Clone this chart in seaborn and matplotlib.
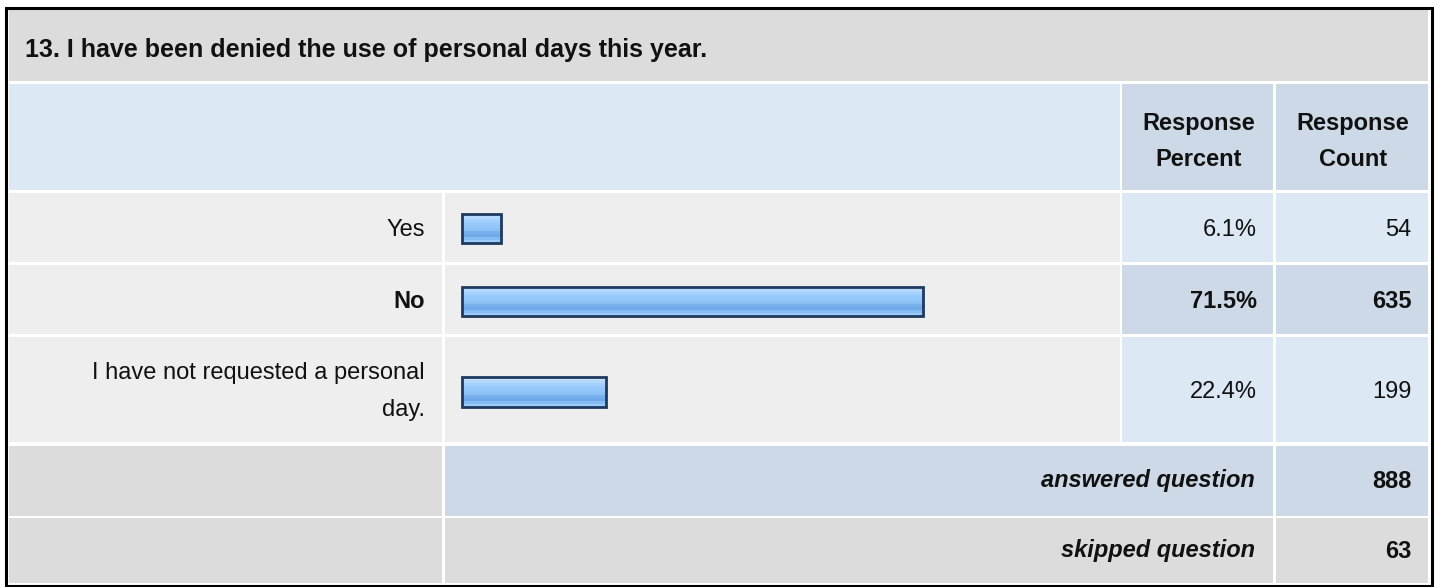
import matplotlib
matplotlib.use("Agg")
import matplotlib.pyplot as plt
import seaborn as sns
import numpy as np
import pandas as pd
from matplotlib.patches import Rectangle
from matplotlib.colors import to_rgb

# ---------------- data ----------------
question = "13. I have been denied the use of personal days this year."
categories = ["Yes", "No", "I have not requested a personal\nday."]
percents = [6.1, 71.5, 22.4]
counts = [54, 635, 199]
percent_labels = ["6.1%", "71.5%", "22.4%"]
header_percent = ["Response", "Percent"]
header_count = ["Response", "Count"]
answered_label = "answered question"
answered_count = 888
skipped_label = "skipped question"
skipped_count = 63
highlight = "No"

# ---------------- style ----------------
sns.set_theme(style="white")
plt.rcParams["font.family"] = ["Liberation Sans", "DejaVu Sans"]

W, H = 1437, 587
FS = 17
fig = plt.figure(figsize=(W / 100, H / 100), dpi=100, facecolor="white")
bg = fig.add_axes([0, 0, 1, 1])
bg.set_xlim(0, W)
bg.set_ylim(H, 0)
bg.axis("off")

GRAY = "#dcdcdc"
LIGHT = "#eeeeee"
BLUE = "#dde8f5"
BLUE2 = "#cdd9e6"
TXT = "#111111"


def cell(x0, y0, x1, y1, color):
    bg.add_patch(Rectangle((x0, y0), x1 - x0, y1 - y0, facecolor=color,
                           edgecolor="none", zorder=1))


# columns (pixels)
C_LAB = (9, 442)
C_BAR = (444.5, 1119.5)
C_PCT = (1122, 1273)
C_CNT = (1276, 1427.5)

# rows
R_TITLE = (10, 81)
R_HEAD = (84, 190)
R_DATA = [(193, 262), (265, 334), (337, 442)]
R_ANS = (445.5, 515.5)
R_SKIP = (518, 583)

# outer frame
bg.add_patch(Rectangle((5.5, 7.5), 1426, 578, facecolor="none",
                       edgecolor="black", linewidth=2.2, zorder=3))

# title
cell(C_LAB[0], R_TITLE[0], C_CNT[1], R_TITLE[1], GRAY)
bg.text(25, 57, question, fontsize=18, fontweight="bold", color=TXT,
        ha="left", va="baseline", zorder=4)

# header
cell(C_LAB[0], R_HEAD[0], C_BAR[1], R_HEAD[1], BLUE)
cell(C_PCT[0], R_HEAD[0], C_PCT[1], R_HEAD[1], BLUE2)
cell(C_CNT[0], R_HEAD[0], C_CNT[1], R_HEAD[1], BLUE2)
for col, lines in ((C_PCT, header_percent), (C_CNT, header_count)):
    cx = (col[0] + col[1]) / 2 + 1
    for k, line in enumerate(lines):
        bg.text(cx, 130 + 36 * k, line, fontsize=FS, fontweight="bold",
                color=TXT, ha="center", va="baseline", zorder=4)

# data rows
bar_centers = [228.5, 301.5, 392]
x_zero_px = 461.5
px_per_pct = 6.45
x_lo = -(x_zero_px - C_BAR[0]) / px_per_pct
x_hi = (C_BAR[1] - x_zero_px) / px_per_pct

grad_colors = ["#c6e2fe", "#b4d9fd", "#a3d0fc", "#97c9fa", "#93c6f9",
               "#8cc1f6", "#78b0ee", "#70a9ea", "#84bbf3", "#9ccbf9"]
grad = np.array([to_rgb(c) for c in grad_colors])[:, None, :]

for i, (cat, pct, cnt, plab) in enumerate(zip(categories, percents, counts, percent_labels)):
    y0, y1 = R_DATA[i]
    yc = (y0 + y1) / 2
    bold = cat == highlight
    val_bg = BLUE2 if bold else BLUE
    cell(C_LAB[0], y0, C_LAB[1], y1, LIGHT)
    cell(C_BAR[0], y0, C_BAR[1], y1, LIGHT)
    cell(C_PCT[0], y0, C_PCT[1], y1, val_bg)
    cell(C_CNT[0], y0, C_CNT[1], y1, val_bg)

    lines = cat.split("\n")
    n = len(lines)
    for k, line in enumerate(lines):
        base = yc + 8 + (k - (n - 1) / 2) * 37
        bg.text(425, base, line, fontsize=FS, color=TXT,
                fontweight="bold" if bold else "normal",
                ha="right", va="baseline", zorder=4)
    w = "bold" if bold else "normal"
    bg.text(C_PCT[1] - 16, yc + 8, plab, fontsize=FS, fontweight=w,
            color=TXT, ha="right", va="baseline", zorder=4)
    bg.text(C_CNT[1] - 16, yc + 8, str(cnt), fontsize=FS, fontweight=w,
            color=TXT, ha="right", va="baseline", zorder=4)

    # bar drawn through seaborn
    bc = bar_centers[i]
    ax = fig.add_axes([C_BAR[0] / W, 1 - (bc + 35) / H,
                       (C_BAR[1] - C_BAR[0]) / W, 70 / H])
    df = pd.DataFrame({"category": [cat], "percent": [pct]})
    sns.barplot(data=df, x="percent", y="category", orient="h", ax=ax,
                color="#93c8fa", saturation=1, width=0.42,
                edgecolor="#1e3a5f", linewidth=2.0)
    for p in ax.patches:
        px0, py0 = p.get_x(), p.get_y()
        pw, ph = p.get_width(), p.get_height()
        im = ax.imshow(grad, extent=(px0, px0 + pw, py0 + ph, py0),
                       aspect="auto", origin="upper", zorder=p.get_zorder() - 0.1,
                       interpolation="nearest")
        im.set_clip_path(p)
        p.set_facecolor("none")
    ax.set_xlim(x_lo, x_hi)
    ax.set_ylim(0.5, -0.5)
    ax.axis("off")
    ax.patch.set_alpha(0)

# answered row
cell(C_LAB[0], R_ANS[0], C_LAB[1], R_ANS[1], GRAY)
cell(C_BAR[0], R_ANS[0], C_PCT[1], R_ANS[1], BLUE2)
cell(C_CNT[0], R_ANS[0], C_CNT[1], R_ANS[1], BLUE2)
yc = (R_ANS[0] + R_ANS[1]) / 2
bg.text(C_PCT[1] - 18, yc + 7, answered_label, fontsize=FS, fontweight="bold",
        fontstyle="italic", color=TXT, ha="right", va="baseline", zorder=4)
bg.text(C_CNT[1] - 16, yc + 7, str(answered_count), fontsize=FS, fontweight="bold",
        color=TXT, ha="right", va="baseline", zorder=4)

# skipped row
cell(C_LAB[0], R_SKIP[0], C_LAB[1], R_SKIP[1], GRAY)
cell(C_BAR[0], R_SKIP[0], C_PCT[1], R_SKIP[1], GRAY)
cell(C_CNT[0], R_SKIP[0], C_CNT[1], R_SKIP[1], GRAY)
yc = (R_SKIP[0] + R_SKIP[1]) / 2
bg.text(C_PCT[1] - 18, yc + 7, skipped_label, fontsize=FS, fontweight="bold",
        fontstyle="italic", color=TXT, ha="right", va="baseline", zorder=4)
bg.text(C_CNT[1] - 16, yc + 7, str(skipped_count), fontsize=FS, fontweight="bold",
        color=TXT, ha="right", va="baseline", zorder=4)

fig.savefig("out.png", dpi=100, facecolor="white")
